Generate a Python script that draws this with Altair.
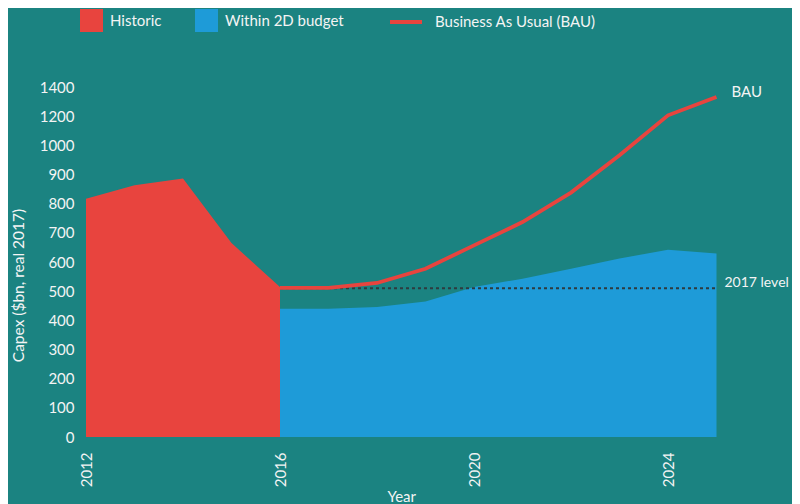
import altair as alt
import pandas as pd

# ---- data ----
hist_years = [2012, 2013, 2014, 2015, 2016]
historic = [817, 863, 886, 665, 514]

fc_years = [2016, 2017, 2018, 2019, 2020, 2021, 2022, 2023, 2024, 2025]
budget = [440, 440, 446, 465, 514, 543, 577, 612, 642, 629]
bau = [511, 511, 528, 577, 657, 737, 838, 966, 1103, 1166]

level_2017 = 510
level_years = [2016, 2025]

y_ticks = [0, 100, 200, 300, 400, 500, 600, 700, 800, 900, 1000, 1100, 1200]
x_ticks = [2012, 2016, 2020, 2024]

area_names = ["Historic", "Within 2D budget"]
line_name = "Business As Usual (BAU)"

RED = "#E8443E"
BLUE = "#1E9BD8"
BG = "#1B8381"
FONT = "Lato"
TXT = "#F4F4F4"

areas = pd.DataFrame(
    {"year": hist_years + fc_years,
     "value": historic + budget,
     "series": [area_names[0]] * len(hist_years) + [area_names[1]] * len(fc_years)}
)
line_df = pd.DataFrame({"year": fc_years, "value": bau, "series": [line_name] * len(fc_years)})
level_df = pd.DataFrame({"year": [level_years[0]], "x2": [level_years[1]], "value": [level_2017]})
bau_lbl = pd.DataFrame({"year": [fc_years[-1]], "value": [bau[-1]], "t": ["BAU"]})
lvl_lbl = pd.DataFrame({"year": [level_years[1]], "value": [level_2017], "t": ["2017 level"]})

xscale = alt.Scale(domain=[2012, 2025], nice=False, zero=False)
yscale = alt.Scale(domain=[0, 1200], nice=False)

x_axis = alt.Axis(values=x_ticks, format="d", labelAngle=-90, title="Year",
                  labelPadding=15, titlePadding=3, domain=False, ticks=False, grid=False)
y_axis = alt.Axis(values=y_ticks, format="d", labelOverlap=False, title="Capex ($bn, real 2017)",
                  labelExpr="datum.value == 1100 ? '1200' : datum.value == 1200 ? '1400' : datum.label",
                  labelPadding=12, domain=False, ticks=False, grid=False,
                  titleX=-68, titleY=198, titleAngle=-90, titleBaseline="middle", titleAlign="center",
                  titleFontSize=15.5)


def X():
    return alt.X("year:Q", scale=xscale, axis=x_axis)


def Y():
    return alt.Y("value:Q", scale=yscale, axis=y_axis, stack=None)


area = alt.Chart(areas).mark_area(opacity=1).encode(
    x=X(),
    y=Y(),
    fill=alt.Fill(
        "series:N",
        scale=alt.Scale(domain=area_names, range=[RED, BLUE]),
        legend=alt.Legend(title=None, orient="none", legendX=-6, legendY=-78,
                          direction="horizontal", symbolType="square", symbolSize=529,
                          symbolStrokeWidth=0, labelOffset=7, columnPadding=33,
                          labelFontSize=15, labelColor=TXT, labelFont=FONT, labelLimit=400),
    ),
    detail="series:N",
)

level = alt.Chart(level_df).mark_rule(color="#2E3B3F", strokeWidth=2, strokeDash=[3, 3]).encode(
    x=X(), x2="x2:Q", y=Y(),
)

line = alt.Chart(line_df).mark_line(strokeWidth=3.8).encode(
    x=X(),
    y=Y(),
    stroke=alt.Stroke(
        "series:N",
        scale=alt.Scale(domain=[line_name], range=[RED]),
        legend=alt.Legend(title=None, orient="none", legendX=302, legendY=-83,
                          symbolType="stroke", symbolSize=1024, symbolStrokeWidth=4,
                          labelOffset=11, labelFontSize=15, labelColor=TXT, labelFont=FONT,
                          labelLimit=400),
    ),
)

bau_text = alt.Chart(bau_lbl).mark_text(align="left", dx=15, dy=-5, fontSize=15, font=FONT, color=TXT).encode(
    x=X(), y=Y(), text="t:N",
)
lvl_text = alt.Chart(lvl_lbl).mark_text(align="left", dx=8, dy=-5, fontSize=14, font=FONT, color=TXT).encode(
    x=X(), y=Y(), text="t:N",
)

chart = (
    alt.layer(area, level, line, bau_text, lvl_text)
    .resolve_scale(fill="independent", stroke="independent")
    .properties(
        width=630.5,
        height=350,
        autosize=alt.AutoSizeParams(type="none"),
        padding={"left": 78, "top": 79, "right": 75.5, "bottom": 70},
        background=BG,
    )
    .configure_view(stroke=None)
    .configure_axis(labelFont=FONT, titleFont=FONT, labelFontSize=15, titleFontSize=15,
                    labelColor=TXT, titleColor=TXT, titleFontWeight="normal")
)

chart.save("out.html", embed_options={"renderer": "svg", "actions": False})
